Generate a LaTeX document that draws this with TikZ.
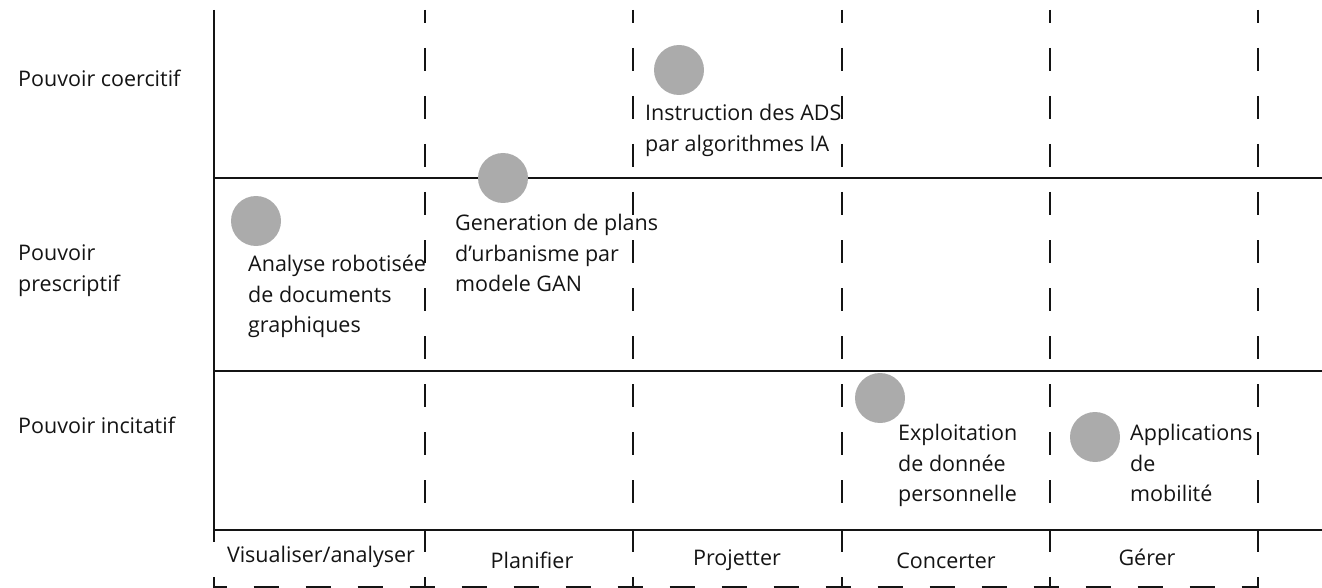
\documentclass[tikz,border=0pt]{standalone}
\usepackage{fontspec}
\setmainfont{Open Sans}
\definecolor{pastille}{RGB}{171,171,171}
\definecolor{encre}{RGB}{20,20,20}
\begin{document}
\begin{tikzpicture}[x=1pt, y=-1pt,
  trait/.style={line width=2.5pt, draw=encre},
  tiret/.style={trait, dash pattern=on 23pt off 25pt, dash phase=10pt},
  pointille/.style={trait, dash pattern=on 25pt off 27pt, dash phase=12.5pt},
  pastil/.style={circle, fill=pastille, minimum size=50pt, inner sep=0pt},
  txt/.style={align=left, anchor=north west, inner sep=0pt, text=encre, font=\fontsize{21.5}{30.5}\selectfont},
  axe/.style={anchor=center, inner sep=0pt, text=encre, font=\fontsize{21.5}{30}\selectfont}]
\useasboundingbox (0,0) rectangle (1322,588);
% grille
\coordinate (G_0_0) at (214,10);
\coordinate (G_0_1) at (214,542);
\draw[trait] (G_0_0) -- (G_0_1);
\foreach \y in {178,371,530} {
  \draw[trait] (214,\y) -- (1322,\y);
}
\foreach \x in {425,633,842,1050,1258} {
  \draw[tiret] (\x,10) -- (\x,503);
  \draw[trait] (\x,530) -- (\x,552);
  \draw[trait] (\x,577) -- (\x,590);
}
\draw[trait] (214,577) -- (214,590);
\draw[pointille] (214,587) -- (1258,587);
% lignes
\node[txt] (L_0) at (18,70) {Pouvoir coercitif};
\node[txt] (L_1) at (18,245) {Pouvoir\\prescriptif};
\node[txt] (L_2) at (18,417) {Pouvoir incitatif};
% colonnes
\node[axe] (C_0) at (321,557) {Visualiser/analyser};
\node[axe] (C_1) at (532,560) {Planifier};
\node[axe] (C_2) at (737,560) {Projetter};
\node[axe] (C_3) at (946,561) {Concerter};
\node[axe] (C_4) at (1147,557) {Gérer};
% pastilles
\node[pastil] (P_0_2) at (679,70) {};
\node[txt] (T_0_2) at (645,104) {Instruction des ADS\\par algorithmes IA};
\node[pastil] (P_1_1) at (503,178) {};
\node[txt] (T_1_1) at (455,214) {Generation de plans\\d’urbanisme par\\modele GAN};
\node[pastil] (P_1_0) at (256,221) {};
\node[txt] (T_1_0) at (248,255) {Analyse robotisée\\de documents\\graphiques};
\node[pastil] (P_2_3) at (880,398) {};
\node[txt] (T_2_3) at (898,424) {Exploitation\\de donnée\\personnelle};
\node[pastil] (P_2_4) at (1095,437) {};
\node[txt] (T_2_4) at (1130,424) {Applications\\de\\mobilité};
\end{tikzpicture}
\end{document}
